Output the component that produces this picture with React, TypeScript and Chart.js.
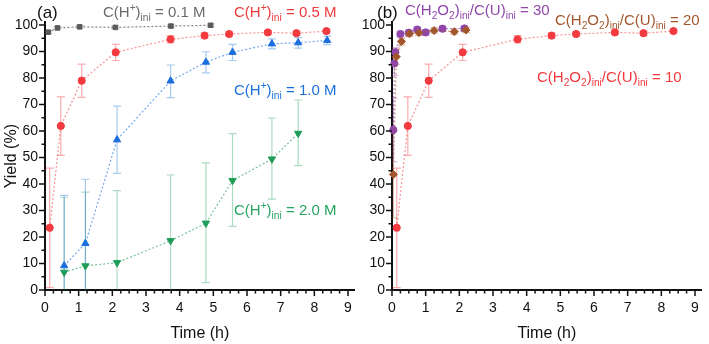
import React, { useEffect, useRef } from 'react';
import { Chart, registerables } from 'chart.js';
Chart.register(...registerables);

// ---------- data ----------
const xTickValues = [0, 1, 2, 3, 4, 5, 6, 7, 8, 9];
const yTickValues = [0, 10, 20, 30, 40, 50, 60, 70, 80, 90, 100];

// panel (a): C(H+)ini = 0.1 M
const grayT = [0.1, 0.37, 1.03, 2.09, 3.74, 4.92];
const grayY = [97.3, 98.9, 99.3, 99.1, 99.6, 99.9];
const grayLo = [96.8, 98.4, 98.8, 98.6, 99.1, 99.4];
const grayHi = [97.8, 99.4, 99.8, 99.6, 100.1, 100.4];

// C(H+)ini = 0.5 M  (also C(H2O2)/C(U) = 10 in panel b)
const redT = [0.14, 0.47, 1.09, 2.1, 3.73, 4.74, 5.47, 6.62, 7.47, 8.36];
const redY = [23.5, 61.9, 79.0, 89.7, 94.6, 96.0, 96.6, 97.2, 96.9, 97.7];
const redLo = [0.9, 50.8, 72.7, 86.6, 93.2, 95.0, 95.8, 96.5, 96.2, 97.0];
const redHi = [46.0, 72.9, 85.2, 92.7, 96.0, 97.0, 97.4, 97.9, 97.6, 98.4];

// C(H+)ini = 1.0 M
const blueT = [0.57, 1.2, 2.14, 3.73, 4.78, 5.57, 6.74, 7.52, 8.38];
const blueY = [9.2, 17.6, 56.7, 78.9, 86.0, 89.7, 92.9, 93.3, 94.2];
const blueLo = [-18, -6, 44.0, 72.6, 81.9, 86.6, 91.0, 91.3, 92.6];
const blueHi = [35.7, 41.8, 69.4, 84.9, 89.9, 92.7, 94.8, 95.2, 95.8];

// C(H+)ini = 2.0 M
const greenT = [0.57, 1.2, 2.14, 3.73, 4.78, 5.57, 6.74, 7.52];
const greenY = [6.7, 9.1, 10.3, 18.6, 25.2, 41.3, 49.4, 59.1];
const greenLo = [-22, -19, -17, -6, 2.8, 24.0, 34.3, 46.9];
const greenHi = [35.0, 36.9, 37.5, 43.4, 48.0, 59.0, 64.9, 71.7];

// panel (b): C(H2O2)/C(U) = 30
const purpleT = [0.04, 0.07, 0.1, 0.25, 0.5, 0.75, 1.0, 1.5, 2.15];
const purpleY = [60.4, 85.5, 89.7, 96.6, 97.1, 98.3, 97.2, 98.6, 98.7];
const purpleLo = [48.4, 81.0, 88.0, 95.6, 96.1, 97.3, 96.2, 97.6, 97.7];
const purpleHi = [72.4, 90.0, 91.5, 97.6, 98.1, 99.3, 98.2, 99.6, 99.7];

// C(H2O2)/C(U) = 20
const brownT = [0.04, 0.13, 0.28, 0.52, 0.8, 1.25, 1.85, 2.2];
const brownY = [43.6, 88.0, 93.8, 96.7, 97.1, 97.9, 97.5, 98.1];
const brownLo = [27.2, 85.0, 92.5, 95.7, 96.1, 96.9, 96.5, 97.1];
const brownHi = [60.0, 91.0, 95.1, 97.7, 98.1, 98.9, 98.5, 99.1];

// ---------- styles ----------
const FONT = "'Liberation Sans', Arial, Helvetica, sans-serif";
const C = {
  gray: { mark: '#5a5a5a', line: 'rgba(90,90,90,0.75)', err: 'rgba(90,90,90,0.35)', text: '#6b6b6b' },
  red: { mark: '#f23a3f', line: 'rgba(242,58,63,0.55)', err: 'rgba(242,58,63,0.42)', text: '#f0393c' },
  blue: { mark: '#1b6fdc', line: 'rgba(27,111,220,0.6)', err: 'rgba(27,111,220,0.38)', text: '#1b6fdc' },
  green: { mark: '#1f9d58', line: 'rgba(31,157,88,0.6)', err: 'rgba(31,157,88,0.38)', text: '#26a460' },
  purple: { mark: '#9146ac', line: 'rgba(145,70,172,0.6)', err: 'rgba(145,70,172,0.38)', text: '#9146ac' },
  brown: { mark: '#a3562c', line: 'rgba(163,86,44,0.6)', err: 'rgba(163,86,44,0.38)', text: '#a3562c' },
};

function ds(t: number[], y: number[], lo: number[], hi: number[], col: any, style: string, r: number, rot = 0) {
  return {
    data: t.map((v, i) => ({ x: v, y: y[i] })),
    showLine: true,
    borderColor: col.line,
    borderWidth: 1.2,
    borderDash: [2, 2],
    pointStyle: style,
    pointRadius: r,
    pointRotation: rot,
    pointBackgroundColor: col.mark,
    pointBorderColor: col.mark,
    pointBorderWidth: 1,
    clip: false,
    errLo: lo,
    errHi: hi,
    errColor: col.err,
  } as any;
}

type Seg = { t: string; k?: 'sub' | 'sup' };
type Lbl = { segs: Seg[]; x: number; y: number; color: string; size: number };

const hLabel = (v: string): Seg[] => [
  { t: 'C(H' }, { t: '+', k: 'sup' }, { t: ')' }, { t: 'ini', k: 'sub' }, { t: ' = ' + v + ' M' },
];
const rLabel = (v: string): Seg[] => [
  { t: 'C(H' }, { t: '2', k: 'sub' }, { t: 'O' }, { t: '2', k: 'sub' }, { t: ')' }, { t: 'ini', k: 'sub' },
  { t: '/C(U)' }, { t: 'ini', k: 'sub' }, { t: ' = ' + v },
];

const errorBarPlugin = {
  id: 'errbars',
  beforeDatasetsDraw(chart: any) {
    const { ctx, chartArea: ca, scales } = chart;
    const xs = scales.x, ys = scales.y;
    ctx.save();
    ctx.beginPath();
    ctx.rect(ca.left, ca.top - 20, ca.right - ca.left, ca.bottom - ca.top + 20);
    ctx.clip();
    chart.data.datasets.forEach((d: any) => {
      if (!d.errLo) return;
      ctx.strokeStyle = d.errColor;
      ctx.lineWidth = 1.2;
      d.data.forEach((p: any, i: number) => {
        const px = xs.getPixelForValue(p.x);
        const yl = ys.getPixelForValue(d.errLo[i]);
        const yh = ys.getPixelForValue(d.errHi[i]);
        ctx.beginPath();
        ctx.moveTo(px, yl); ctx.lineTo(px, yh);
        ctx.moveTo(px - 4, yh); ctx.lineTo(px + 4, yh);
        ctx.moveTo(px - 4, yl); ctx.lineTo(px + 4, yl);
        ctx.stroke();
      });
    });
    ctx.restore();
  },
};

const axisTicksPlugin = {
  id: 'axticks',
  afterDraw(chart: any) {
    const { ctx, chartArea: ca, scales } = chart;
    const xs = scales.x, ys = scales.y;
    ctx.save();
    ctx.strokeStyle = '#111';
    ctx.lineWidth = 1.5;
    for (let i = 0; i <= 36; i++) {
      const px = xs.getPixelForValue(i * 0.25);
      const len = i % 4 === 0 ? 6 : 3.5;
      ctx.beginPath(); ctx.moveTo(px, ca.bottom); ctx.lineTo(px, ca.bottom + len); ctx.stroke();
    }
    for (let i = 0; i <= 20; i++) {
      const py = ys.getPixelForValue(i * 5);
      const len = i % 2 === 0 ? 6 : 3.5;
      ctx.beginPath(); ctx.moveTo(ca.left, py); ctx.lineTo(ca.left - len, py); ctx.stroke();
    }
    ctx.restore();
  },
};

const labelPlugin = {
  id: 'labels',
  afterDraw(chart: any) {
    const lbls: Lbl[] = chart.options.plugins.labels?.items || [];
    const ctx = chart.ctx;
    ctx.save();
    ctx.textBaseline = 'alphabetic';
    ctx.textAlign = 'left';
    lbls.forEach((l) => {
      let x = l.x;
      ctx.fillStyle = l.color;
      l.segs.forEach((s) => {
        const sz = s.k ? l.size * 0.68 : l.size;
        ctx.font = `${sz}px ${FONT}`;
        const dy = s.k === 'sub' ? l.size * 0.28 : s.k === 'sup' ? -l.size * 0.42 : 0;
        ctx.fillText(s.t, x, l.y + dy);
        x += ctx.measureText(s.t).width;
      });
    });
    ctx.restore();
  },
};

function makeOptions(yAxisWidth: number, padRight: number, showYTitle: boolean, items: Lbl[]) {
  return {
    animation: false,
    responsive: false,
    devicePixelRatio: 1,
    events: [],
    layout: { padding: { left: 0, right: padRight, top: 22.35, bottom: 0 } },
    plugins: { legend: { display: false }, tooltip: { enabled: false }, labels: { items } },
    scales: {
      x: {
        type: 'linear',
        min: 0,
        max: 9.2,
        afterFit: (s: any) => { s.height = 54; },
        grid: { display: false, drawTicks: false },
        border: { display: true, color: '#111', width: 2 },
        ticks: {
          stepSize: 1,
          includeBounds: false,
          autoSkip: false,
          maxRotation: 0,
          padding: 10,
          color: '#111',
          font: { family: FONT, size: 14 },
          callback: (v: number) => (xTickValues.includes(v) ? String(v) : ''),
        },
        title: {
          display: true,
          text: 'Time (h)',
          color: '#111',
          font: { family: FONT, size: 16 },
          padding: { top: 0, bottom: 1 },
        },
      },
      y: {
        type: 'linear',
        min: 0,
        max: 101,
        afterFit: (s: any) => { s.width = yAxisWidth; },
        grid: { display: false, drawTicks: false },
        border: { display: true, color: '#111', width: 2 },
        ticks: {
          stepSize: 10,
          includeBounds: false,
          autoSkip: false,
          padding: 7,
          color: '#111',
          font: { family: FONT, size: 14 },
          callback: (v: number) => (yTickValues.includes(v) ? String(v) : ''),
        },
        title: {
          display: showYTitle,
          text: 'Yield (%)',
          color: '#111',
          font: { family: FONT, size: 16 },
          padding: { top: 2, bottom: 0 },
        },
      },
    },
  } as any;
}

export default function App() {
  const refA = useRef<HTMLCanvasElement>(null);
  const refB = useRef<HTMLCanvasElement>(null);

  useEffect(() => {
    const itemsA: Lbl[] = [
      { segs: [{ t: '(a)' }], x: 37, y: 18, color: '#111', size: 17 },
      { segs: hLabel('0.1'), x: 103, y: 17, color: C.gray.text, size: 15 },
      { segs: hLabel('0.5'), x: 234, y: 17, color: C.red.text, size: 15 },
      { segs: hLabel('1.0'), x: 234, y: 95, color: C.blue.text, size: 15 },
      { segs: hLabel('2.0'), x: 234, y: 215, color: C.green.text, size: 15 },
    ];
    const itemsB: Lbl[] = [
      { segs: [{ t: '(b)' }], x: 17, y: 18, color: '#111', size: 17 },
      { segs: rLabel('30'), x: 45, y: 15, color: C.purple.text, size: 15 },
      { segs: rLabel('20'), x: 195, y: 25, color: C.brown.text, size: 15 },
      { segs: rLabel('10'), x: 177, y: 82, color: C.red.text, size: 15 },
    ];

    const chartA = new Chart(refA.current as HTMLCanvasElement, {
      type: 'scatter',
      data: {
        datasets: [
          ds(grayT, grayY, grayLo, grayHi, C.gray, 'rect', 3.2),
          ds(greenT, greenY, greenLo, greenHi, C.green, 'triangle', 4.2, 180),
          ds(blueT, blueY, blueLo, blueHi, C.blue, 'triangle', 4.2),
          ds(redT, redY, redLo, redHi, C.red, 'circle', 3.6),
        ],
      },
      options: makeOptions(45, 3.3, true, itemsA),
      plugins: [errorBarPlugin, axisTicksPlugin, labelPlugin],
    });
    const chartB = new Chart(refB.current as HTMLCanvasElement, {
      type: 'scatter',
      data: {
        datasets: [
          ds(redT, redY, redLo, redHi, C.red, 'circle', 3.6),
          ds(brownT, brownY, brownLo, brownHi, C.brown, 'rectRot', 4),
          ds(purpleT, purpleY, purpleLo, purpleHi, C.purple, 'circle', 3.6),
        ],
      },
      options: makeOptions(32, 4.5, false, itemsB),
      plugins: [errorBarPlugin, axisTicksPlugin, labelPlugin],
    });
    return () => { chartA.destroy(); chartB.destroy(); };
  }, []);

  return (
    <div style={{ position: 'fixed', left: 0, top: 0, width: 709, height: 344, background: '#fff' }}>
      <canvas ref={refA} width={362} height={344} style={{ position: 'absolute', left: 0, top: 0 }} />
      <canvas ref={refB} width={349} height={344} style={{ position: 'absolute', left: 360, top: 0 }} />
    </div>
  );
}
